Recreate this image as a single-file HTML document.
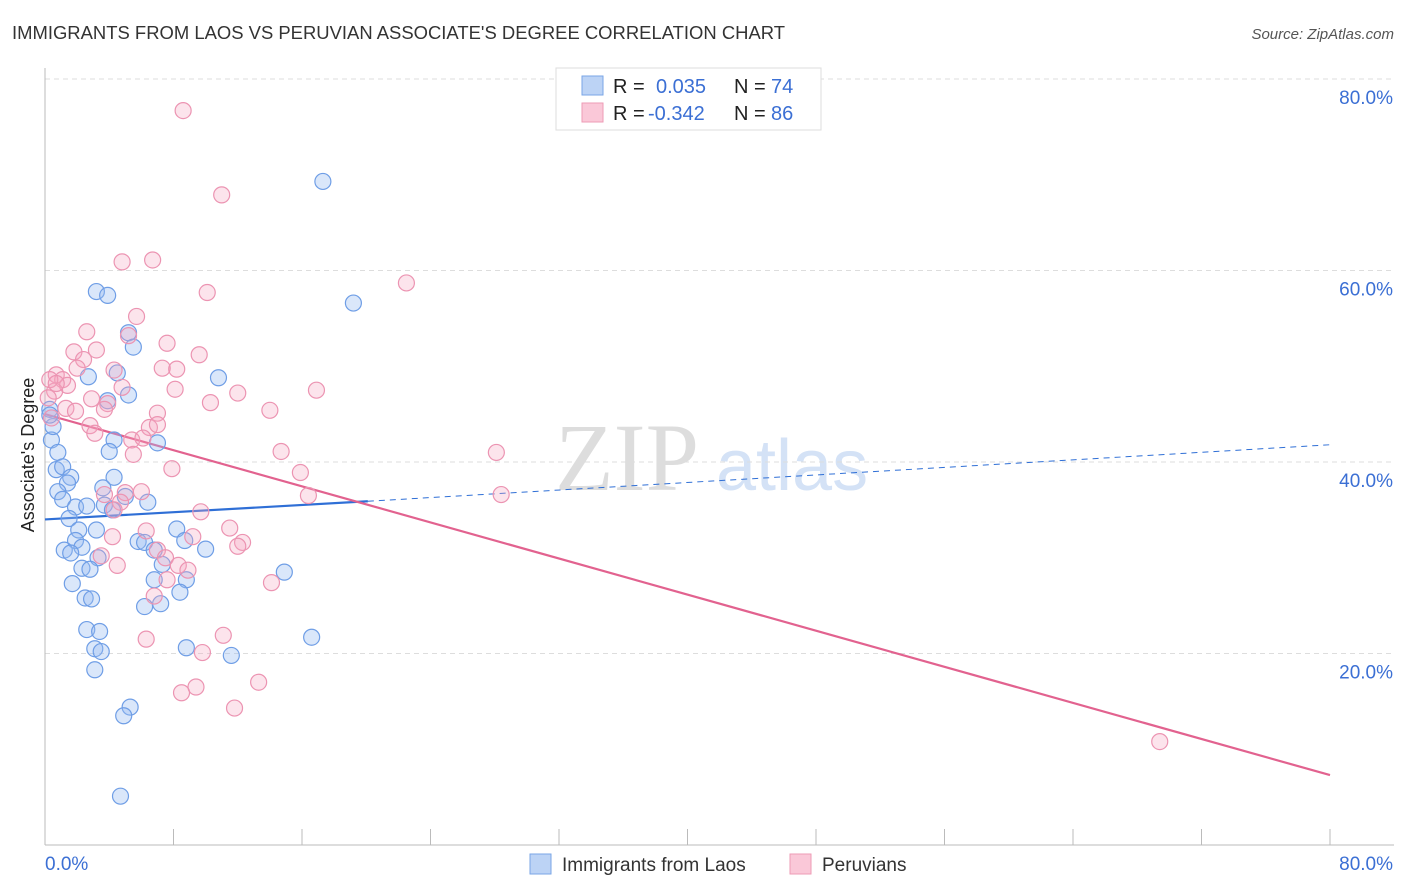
<!DOCTYPE html>
<html><head><meta charset="utf-8"><style>
body{margin:0;background:#fff;font-family:"Liberation Sans",sans-serif;}
svg{display:block}
</style></head><body>
<svg id="chart" width="1406" height="892">
<text x="12" y="39" font-size="18" fill="#333" textLength="773" lengthAdjust="spacingAndGlyphs">IMMIGRANTS FROM LAOS VS PERUVIAN ASSOCIATE'S DEGREE CORRELATION CHART</text>
<text x="1394" y="39" font-size="15" fill="#555" font-style="italic" text-anchor="end">Source: ZipAtlas.com</text>
<g><text x="555" y="490" font-size="96" fill="#ddd" font-family="Liberation Serif,serif">ZIP</text><text x="716" y="490" font-size="72" fill="#d4e2f6">atlas</text></g>
<g id="grid"></g><g id="axes"></g><g id="trend"></g><g id="pts"></g>
<text x="34" y="455" font-size="18" fill="#222" transform="rotate(-90 34 455)" text-anchor="middle">Associate's Degree</text>
<g>
<rect x="556" y="68" width="265" height="62" fill="#fff" stroke="#ddd"/>
<rect x="582" y="76" width="21" height="19" fill="#bcd3f5" stroke="#7aa6e6"/>
<rect x="582" y="103" width="21" height="19" fill="#fac8d8" stroke="#ee9bb6"/>
<text x="613" y="93" font-size="20" fill="#222">R = </text><text x="656" y="93" font-size="20" fill="#3b6fd4">0.035</text>
<text x="734" y="93" font-size="20" fill="#222">N = </text><text x="771" y="93" font-size="20" fill="#3b6fd4">74</text>
<text x="613" y="120" font-size="20" fill="#222">R = </text><text x="648" y="120" font-size="20" fill="#3b6fd4">-0.342</text>
<text x="734" y="120" font-size="20" fill="#222">N = </text><text x="771" y="120" font-size="20" fill="#3b6fd4">86</text>
</g>
<g>
<rect x="530" y="854" width="21" height="20" fill="#bcd3f5" stroke="#7aa6e6"/>
<text x="562" y="871" font-size="19" fill="#333">Immigrants from Laos</text>
<rect x="790" y="854" width="21" height="20" fill="#fac8d8" stroke="#ee9bb6"/>
<text x="822" y="871" font-size="19" fill="#333">Peruvians</text>
</g>
</svg>
<script>
const blueX=[17.3,19.2,3.2,3.9,5.2,5.5,2.7,4.5,10.8,5.2,3.9,0.3,0.4,0.5,4.3,7.0,0.8,4.0,0.7,1.1,1.6,1.4,4.3,0.8,3.6,1.1,5.0,6.4,1.9,2.6,3.7,4.2,1.5,2.1,3.2,8.2,1.9,2.3,1.2,1.6,3.3,5.8,6.2,6.8,8.7,10.0,7.3,2.3,2.8,14.9,6.8,8.8,1.7,8.4,2.5,2.9,6.2,7.2,2.6,3.4,16.6,3.1,3.5,8.8,11.6,3.1,5.3,4.9,4.7,0.3];
const blueY=[69.3,56.6,57.8,57.4,53.5,52.0,48.9,49.3,48.8,47.0,46.4,45.5,42.3,43.7,42.3,42.0,41.0,41.1,39.2,39.5,38.4,37.8,38.4,36.9,37.3,36.1,36.4,35.8,35.3,35.4,35.5,35.0,34.1,32.9,32.9,33.0,31.8,31.1,30.8,30.5,30.0,31.7,31.6,30.8,31.8,30.9,29.3,28.9,28.8,28.5,27.7,27.7,27.3,26.4,25.8,25.7,24.9,25.2,22.5,22.3,21.7,20.5,20.2,20.6,19.8,18.3,14.4,13.5,5.1,44.9];
const pinkX=[8.6,11.0,22.5,4.8,6.7,10.1,5.7,2.6,5.2,7.6,3.2,1.8,9.6,2.4,2.0,4.3,7.3,8.2,0.7,1.1,1.4,0.6,4.8,8.1,12.0,16.9,2.9,3.9,10.3,1.3,1.9,3.7,7.0,14.0,0.4,2.8,6.5,7.0,3.1,5.4,6.1,5.5,14.7,28.1,7.9,15.9,3.7,6.0,5.0,16.4,28.4,4.7,4.3,9.7,6.3,11.5,4.2,9.2,12.3,12.0,7.0,3.5,7.5,4.5,8.3,8.9,7.6,14.1,6.8,6.3,11.1,9.8,13.3,9.4,8.5,11.8,69.4,0.3,0.7,0.2];
const pinkY=[76.7,67.9,58.7,60.9,61.1,57.7,55.2,53.6,53.2,52.4,51.7,51.5,51.2,50.7,49.8,49.6,49.8,49.7,49.1,48.6,48.0,47.4,47.8,47.6,47.2,47.5,46.6,46.1,46.2,45.6,45.3,45.5,45.1,45.4,44.6,43.8,43.6,43.9,43.0,42.3,42.5,40.8,41.1,41.0,39.3,38.9,36.6,36.9,36.8,36.5,36.6,35.8,35.0,34.8,32.8,33.1,32.2,32.2,31.6,31.2,30.8,30.2,30.0,29.2,29.2,28.7,27.7,27.4,26.0,21.5,21.9,20.1,17.0,16.5,15.9,14.3,10.8,48.6,48.2,46.7];
const blueTrendX=[0,20.1,80];const blueTrendY=[34.0,35.9,41.8];
const pinkTrendX=[0,80];const pinkTrendY=[45.0,7.3];
const yTicks=[20,40,60,80];const yTickLabels=["20.0%","40.0%","60.0%","80.0%"];
const xTicks=[0,8,16,24,32,40,48,56,64,72,80];
const NS="http://www.w3.org/2000/svg";
const sx=v=>45+v/80*1285, sy=v=>845-v/80*766;
function mk(t,a,p){const e=document.createElementNS(NS,t);for(const k in a)e.setAttribute(k,a[k]);p.appendChild(e);return e;}
const grid=document.getElementById('grid'),axes=document.getElementById('axes'),tr=document.getElementById('trend'),pts=document.getElementById('pts');
yTicks.forEach((v,i)=>{
const l=mk('line',{x1:45,x2:1394,y1:sy(v),y2:sy(v),stroke:'#ddd','stroke-dasharray':'5,4'},grid);


const t=mk('text',{x:1393,y:sy(v)+25,'font-size':19,fill:'#3b6fd4','text-anchor':'end'},axes);t.textContent=yTickLabels[i];


});
const ax=mk('line',{x1:45,x2:1394,y1:845,y2:845,stroke:'#bbb'},axes);


const ay=mk('line',{x1:45,x2:45,y1:68,y2:845,stroke:'#bbb'},axes);


xTicks.forEach(v=>{const t=mk('line',{x1:sx(v),x2:sx(v),y1:829,y2:845,stroke:'#bbb'},axes);

});
const x0=mk('text',{x:45,y:870,'font-size':19,fill:'#3b6fd4'},axes);x0.textContent='0.0%';


const x1=mk('text',{x:1393,y:870,'font-size':19,fill:'#3b6fd4','text-anchor':'end'},axes);x1.textContent='80.0%';


function dot(x,y,f,s){const c=mk('circle',{cx:sx(x),cy:sy(y),r:8,fill:f,stroke:s,'stroke-width':1.2},pts);return c;}
blueX.forEach((x,i)=>{const c=dot(x,blueY[i],'rgba(150,185,240,0.35)','#6f9ee6');

});
pinkX.forEach((x,i)=>{const c=dot(x,pinkY[i],'rgba(245,165,192,0.3)','#ec94b2');

});
const b1=mk('line',{x1:sx(blueTrendX[0]),y1:sy(blueTrendY[0]),x2:sx(blueTrendX[1]),y2:sy(blueTrendY[1]),stroke:'#2f6fd6','stroke-width':2.2},tr);


const b2=mk('line',{x1:sx(blueTrendX[1]),y1:sy(blueTrendY[1]),x2:sx(blueTrendX[2]),y2:sy(blueTrendY[2]),stroke:'#2f6fd6','stroke-width':1,'stroke-dasharray':'6,5'},tr);


const p1=mk('line',{x1:sx(pinkTrendX[0]),y1:sy(pinkTrendY[0]),x2:sx(pinkTrendX[1]),y2:sy(pinkTrendY[1]),stroke:'#e2628f','stroke-width':2.2},tr);


</script>
</body></html>
